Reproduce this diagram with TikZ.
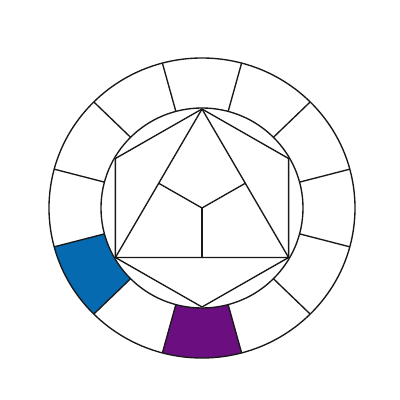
\documentclass[tikz,border=0pt]{standalone}
\usetikzlibrary{calc}
\definecolor{wheelblue}{RGB}{5,106,176}
\definecolor{wheelpurple}{RGB}{107,14,128}
\tikzset{
  wheelline/.style={draw=black!90, line width=1.35bp, line join=round},
}
\begin{document}
\begin{tikzpicture}[x=1bp,y=1bp]
\useasboundingbox (0,0) rectangle (400,400);
\fill[white] (0,0) rectangle (400,400);
\begin{scope}[shift={(202,192)}]
  % colored segments
  \fill[wheelblue] (195:153 and 150) arc[start angle=195,end angle=225,x radius=153,y radius=150]
     -- (225:101 and 100) arc[start angle=225,end angle=195,x radius=101,y radius=100] -- cycle;
  \fill[wheelpurple] (255:153 and 150) arc[start angle=255,end angle=285,x radius=153,y radius=150]
     -- (285:101 and 100) arc[start angle=285,end angle=255,x radius=101,y radius=100] -- cycle;
  % circles
  \draw[wheelline] (0,0) ellipse[x radius=153,y radius=150];
  \draw[wheelline] (0,0) ellipse[x radius=101,y radius=100];
  % dividers
  \foreach \a in {15,45,...,345}
    \draw[wheelline] (\a:101 and 100) -- (\a:153 and 150);
  % hexagon
  \foreach \i/\a in {1/90,2/150,3/210,4/270,5/330,6/30}
    \coordinate (h\i) at (\a:100 and 99);
  \draw[wheelline] (h1) -- (h2) -- (h3) -- (h4) -- (h5) -- (h6) -- cycle;
  % triangle
  \draw[wheelline] (h1) -- (h3) -- (h5) -- cycle;
  % Y
  \coordinate (c) at (0,0);
  \draw[wheelline] (c) -- ($(h1)!0.5!(h3)$);
  \draw[wheelline] (c) -- ($(h3)!0.5!(h5)$);
  \draw[wheelline] (c) -- ($(h5)!0.5!(h1)$);
\end{scope}
\end{tikzpicture}
\end{document}
